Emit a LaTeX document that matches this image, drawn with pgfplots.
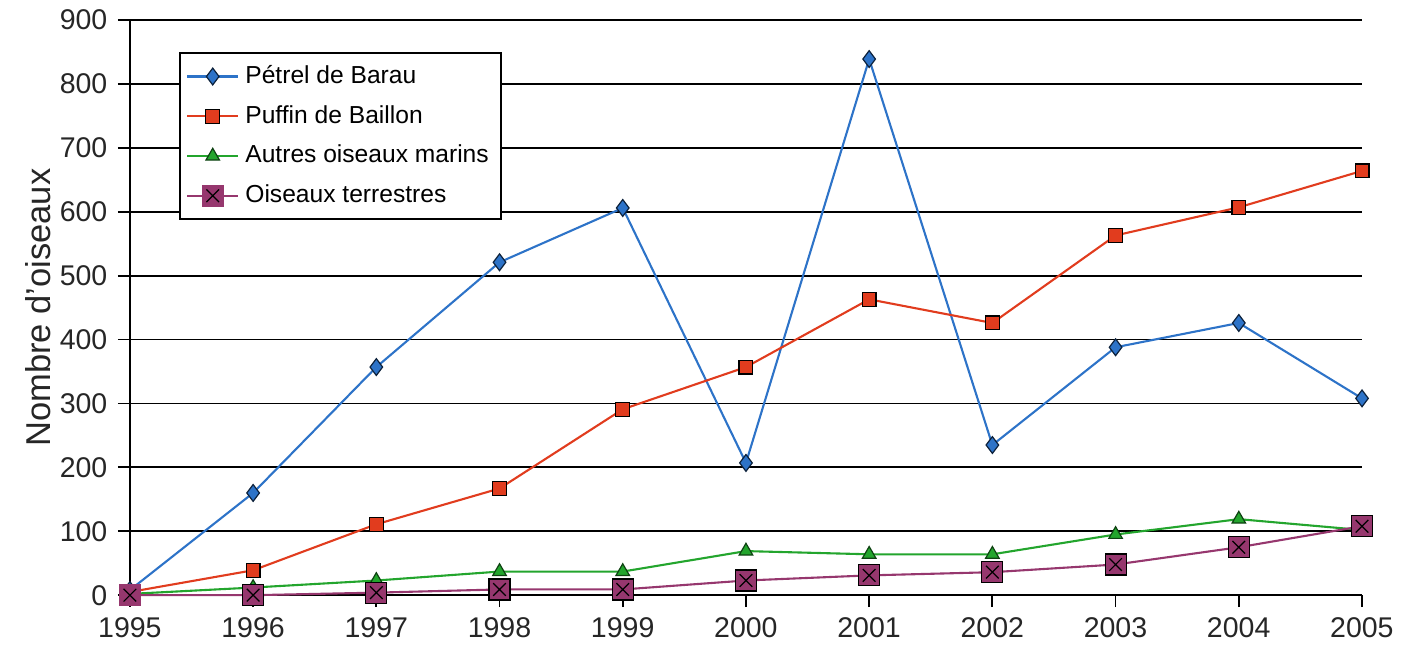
\documentclass[border=0pt]{standalone}
\usepackage{fontspec}
\setmainfont{Liberation Sans}
\usepackage{pgfplots}
\pgfplotsset{compat=1.18}

\definecolor{cblue}{RGB}{45,115,200}
\definecolor{cred}{RGB}{225,60,30}
\definecolor{cgreen}{RGB}{35,165,45}
\definecolor{cpurple}{RGB}{150,55,110}

% square with a black cross
\pgfdeclareplotmark{sqx}{%
  \pgfpathrectangle{\pgfpoint{-\pgfplotmarksize}{-\pgfplotmarksize}}%
    {\pgfpoint{2\pgfplotmarksize}{2\pgfplotmarksize}}%
  \pgfusepathqfillstroke
  \pgfsetstrokecolor{black}%
  \pgfpathmoveto{\pgfpoint{-0.6\pgfplotmarksize}{-0.6\pgfplotmarksize}}%
  \pgfpathlineto{\pgfpoint{0.6\pgfplotmarksize}{0.6\pgfplotmarksize}}%
  \pgfpathmoveto{\pgfpoint{-0.6\pgfplotmarksize}{0.6\pgfplotmarksize}}%
  \pgfpathlineto{\pgfpoint{0.6\pgfplotmarksize}{-0.6\pgfplotmarksize}}%
  \pgfusepathqstroke
}

\begin{document}
\begin{tikzpicture}
\begin{axis}[
    scale only axis,
    width=410.7pt,
    height=191.7pt,
    xmin=1995, xmax=2005,
    ymin=0, ymax=900,
    xtick={1995,...,2005},
    ytick={0,100,...,900},
    axis x line=bottom,
    axis y line=left,
    axis line style={-, line width=0.6pt},
    tick align=outside,
    major tick length=4pt,
    tick style={black, line width=0.6pt},
    ymajorgrids,
    major grid style={black, line width=0.6pt},
    /pgf/number format/assume math mode=true,
    xticklabel style={/pgf/number format/1000 sep={}},
    tick label style={font=\fontsize{9.5}{11}\selectfont, text=black!85},
    ylabel={Nombre d'oiseaux},
    ylabel style={font=\fontsize{11.5}{13}\selectfont, text=black!85},
    ylabel shift=-4pt,
    clip=false,
    legend style={at={(0.04,0.944)}, anchor=north west, draw=black,
        line width=0.6pt, fill=white,
        font=\fontsize{8.2}{9.5}\selectfont, row sep=1.8pt,
        inner xsep=2pt, inner ysep=2pt},
    legend cell align=left,
    every axis plot/.append style={line width=0.7pt},
]

\addplot[color=cblue, mark=diamond*, mark size=2.8pt,
    mark options={fill=cblue, draw=black!70!cblue, line width=0.4pt}] coordinates {
    (1995, 8) (1996, 160) (1997, 357) (1998, 521) (1999, 606) (2000, 207)
    (2001, 839) (2002, 235) (2003, 388) (2004, 426) (2005, 308)
};

\addplot[color=cred, mark=square*, mark size=2.3pt,
    mark options={fill=cred, draw=black, line width=0.4pt}] coordinates {
    (1995, 5) (1996, 39) (1997, 111) (1998, 167) (1999, 291) (2000, 357)
    (2001, 463) (2002, 426) (2003, 563) (2004, 607) (2005, 664)
};

\addplot[color=cgreen, mark=triangle*, mark size=2.6pt,
    mark options={fill=cgreen, draw=black!60!cgreen, line width=0.4pt}] coordinates {
    (1995, 2) (1996, 12) (1997, 23) (1998, 37) (1999, 37) (2000, 69)
    (2001, 64) (2002, 64) (2003, 95) (2004, 119) (2005, 102)
};

\addplot[color=cpurple, mark=sqx, mark size=3.5pt,
    mark options={fill=cpurple, draw=cpurple, line width=0.4pt}] coordinates {
    (1995, 0) (1996, 0) (1997, 4) (1998, 9) (1999, 9) (2000, 23)
    (2001, 31) (2002, 36) (2003, 48) (2004, 75) (2005, 108)
};

\legend{P\'etrel de Barau, Puffin de Baillon, Autres oiseaux marins, Oiseaux terrestres}
\end{axis}
\pgfresetboundingbox
\path (-43.3pt,-18pt) rectangle (426.7pt,198.4pt);
\end{tikzpicture}
\end{document}
